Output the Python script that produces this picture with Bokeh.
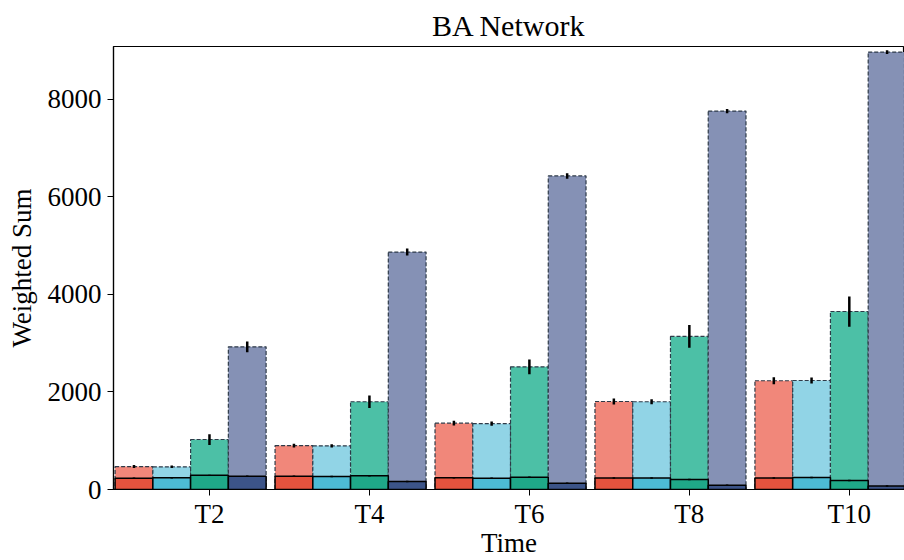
from bokeh.plotting import figure
from bokeh.models import ColumnDataSource, Range1d, FixedTicker
from bokeh.transform import dodge
from bokeh.embed import file_html
from bokeh.resources import INLINE

times = ["T2", "T4", "T6", "T8", "T10"]
series = ["A", "B", "C", "D"]

total_a = [470, 900, 1360, 1805, 2230]
total_b = [465, 895, 1350, 1800, 2235]
total_c = [1025, 1800, 2515, 3140, 3650]
total_d = [2925, 4870, 6430, 7760, 8970]

err_total_a = [30, 40, 50, 60, 70]
err_total_b = [25, 35, 45, 50, 60]
err_total_c = [110, 130, 150, 235, 310]
err_total_d = [110, 70, 55, 45, 40]

inner_a = [230, 270, 240, 238, 238]
inner_b = [240, 265, 232, 238, 245]
inner_c = [290, 280, 252, 205, 184]
inner_d = [272, 165, 130, 88, 70]

err_inner_a = [15, 15, 15, 15, 15]
err_inner_b = [15, 15, 15, 15, 15]
err_inner_c = [15, 15, 15, 15, 15]
err_inner_d = [15, 15, 15, 15, 15]

light_colors = ["#F1877A", "#91D4E6", "#4CC0A6", "#8591B5"]
dark_colors = ["#E5533E", "#4DBBD5", "#1FA888", "#3C5488"]

totals = [total_a, total_b, total_c, total_d]
err_totals = [err_total_a, err_total_b, err_total_c, err_total_d]
inners = [inner_a, inner_b, inner_c, inner_d]
err_inners = [err_inner_a, err_inner_b, err_inner_c, err_inner_d]

FONT = "Liberation Serif"
W = 0.236
offsets = [-2 * W, -W, 0.0, W]

p = figure(width=904, height=560, output_backend="svg", toolbar_location=None,
           x_range=Range1d(-0.6, 4.345), y_range=Range1d(0, 9085),
           min_border_left=113, min_border_right=0, min_border_top=46,
           min_border_bottom=70, title="BA Network")
p.title.text_font = FONT
p.title.text_font_size = "30px"
p.title.text_font_style = "normal"
p.title.align = "center"
p.title.text_color = "black"
p.grid.visible = False
p.outline_line_color = "black"
p.outline_line_width = 1.2
p.background_fill_color = "white"
p.border_fill_color = "white"

idx = list(range(len(times)))
sources = []
for k in range(4):
    src = ColumnDataSource(dict(
        x=idx,
        total=totals[k],
        tlo=[v - e for v, e in zip(totals[k], err_totals[k])],
        thi=[v + e for v, e in zip(totals[k], err_totals[k])],
        inner=inners[k],
        ilo=[v - e for v, e in zip(inners[k], err_inners[k])],
        ihi=[v + e for v, e in zip(inners[k], err_inners[k])],
    ))
    sources.append(src)

for k in range(4):
    p.vbar(x=dodge("x", offsets[k], range=p.x_range), top="total", bottom=0, width=W,
           source=sources[k], fill_color=light_colors[k], line_color="#2E3A48",
           line_width=1.2, line_dash="4 2")
for k in range(4):
    p.vbar(x=dodge("x", offsets[k], range=p.x_range), top="inner", bottom=0, width=W,
           source=sources[k], fill_color=dark_colors[k], line_color="black",
           line_width=1.5)
for k in range(4):
    p.segment(x0=dodge("x", offsets[k], range=p.x_range), y0="tlo",
              x1=dodge("x", offsets[k], range=p.x_range), y1="thi",
              source=sources[k], line_color="black", line_width=2.5)
    p.segment(x0=dodge("x", offsets[k], range=p.x_range), y0="ilo",
              x1=dodge("x", offsets[k], range=p.x_range), y1="ihi",
              source=sources[k], line_color="black", line_width=2.5)

p.xaxis.ticker = FixedTicker(ticks=idx)
p.xaxis.major_label_overrides = {i: t for i, t in zip(idx, times)}
p.yaxis.ticker = FixedTicker(ticks=[0, 2000, 4000, 6000, 8000])
p.xaxis.axis_label = "Time"
p.yaxis.axis_label = "Weighted Sum"
for ax in (p.xaxis, p.yaxis):
    ax.axis_label_text_font = FONT
    ax.axis_label_text_font_size = "27px"
    ax.axis_label_text_font_style = "normal"
    ax.axis_label_text_color = "black"
    ax.major_label_text_font = FONT
    ax.major_label_text_font_size = "27px"
    ax.major_label_text_color = "black"
    ax.minor_tick_line_color = None
    ax.major_tick_in = 0
    ax.major_tick_out = 6
    ax.major_tick_line_color = "black"
    ax.axis_line_color = "black"
    ax.axis_line_width = 1.2
p.xaxis.axis_label_standoff = -4
p.yaxis.axis_label_standoff = 8
p.xaxis.major_label_standoff = 3
p.yaxis.major_label_standoff = 6

open("out.html", "w").write(file_html(p, INLINE))
